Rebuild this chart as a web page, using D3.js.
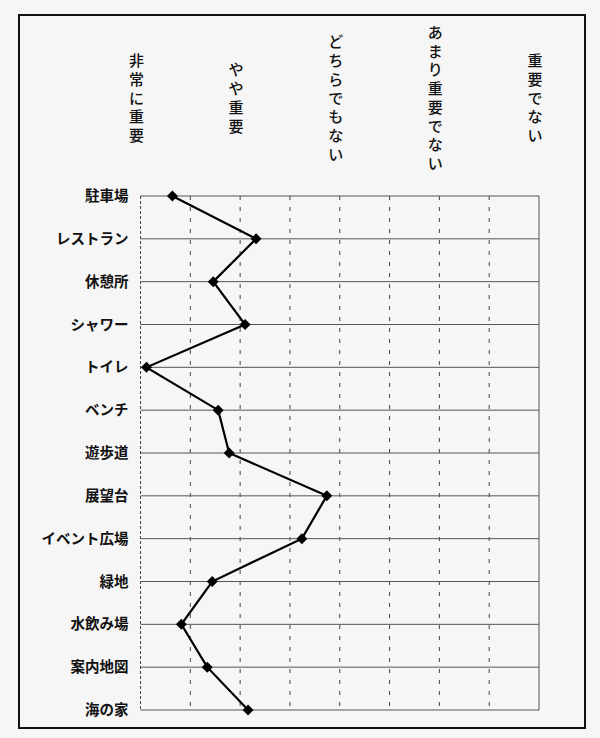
<!DOCTYPE html>
<html>
<head>
<meta charset="utf-8">
<script src="https://cdn.jsdelivr.net/npm/d3@7"></script>
<style>
  html, body { margin: 0; padding: 0; background: #f6f6f6; }
  text { font-family: "Noto Sans CJK JP", "Noto Sans", sans-serif; fill: #111; }
</style>
</head>
<body>
<div id="chart"></div>
<script>
// facilities (rows, top to bottom)
const facilities = ['駐車場', 'レストラン', '休憩所', 'シャワー', 'トイレ', 'ベンチ', '遊歩道',
  '展望台', 'イベント広場', '緑地', '水飲み場', '案内地図', '海の家'];
// mean rating, 1 = 非常に重要 ... 5 = 重要でない
const ratings = [1.32, 2.16, 1.73, 2.05, 1.06, 1.78, 1.89, 2.87, 2.62, 1.72, 1.41, 1.67, 2.08];
// scale labels across the top
const scaleLabels = ['非常に重要', 'やや重要', 'どちらでもない', 'あまり重要でない', '重要でない'];
const gridTicks = [1, 1.5, 2, 2.5, 3, 3.5, 4, 4.5, 5];

const width = 600, height = 738;
const plot = { left: 140.5, right: 539, top: 196, bottom: 710 };

const svg = d3.select('#chart')
  .append('svg')
  .attr('width', width)
  .attr('height', height);

// outer frame
svg.append('rect')
  .attr('x', 19).attr('y', 15)
  .attr('width', 566).attr('height', 713)
  .attr('fill', 'none')
  .attr('stroke', '#111')
  .attr('stroke-width', 2);

const x = d3.scaleLinear().domain([1, 5]).range([plot.left, plot.right]);
const y = d3.scalePoint().domain(facilities).range([plot.top, plot.bottom]);

// vertical grid (dashed)
svg.append('g')
  .selectAll('line')
  .data(gridTicks)
  .enter()
  .append('line')
  .attr('x1', d => x(d)).attr('x2', d => x(d))
  .attr('y1', plot.top).attr('y2', plot.bottom)
  .attr('stroke', d => (d === 5 ? '#555' : '#444'))
  .attr('stroke-width', 1)
  .attr('stroke-dasharray', d => (d === 5 ? null : d === 1 ? '3,2' : '4,7'));

// horizontal grid, one per row
svg.append('g')
  .selectAll('line')
  .data(facilities)
  .enter()
  .append('line')
  .attr('x1', plot.left).attr('x2', plot.right)
  .attr('y1', d => y(d)).attr('y2', d => y(d))
  .attr('stroke', '#555')
  .attr('stroke-width', 1);

// row labels via axis
const yAxis = svg.append('g')
  .attr('transform', `translate(${plot.left},0)`)
  .call(d3.axisLeft(y).tickSize(0).tickPadding(12));
yAxis.select('.domain').remove();
yAxis.selectAll('text')
  .style('font-family', '"Noto Sans CJK JP", sans-serif')
  .style('font-size', '14.5px')
  .style('font-weight', 'bold')
  .attr('fill', '#111');

// vertical scale labels across the top, one glyph per text
const pitch = 18.7;
const headerMid = 97;
scaleLabels.forEach((label, i) => {
  const chars = Array.from(label);
  const top = headerMid - chars.length * pitch / 2;
  svg.append('g')
    .selectAll('text')
    .data(chars)
    .enter()
    .append('text')
    .attr('x', x(i + 1) - 4)
    .attr('y', (c, j) => top + (j + 0.5) * pitch)
    .attr('text-anchor', 'middle')
    .attr('dominant-baseline', 'central')
    .style('font-size', '15px')
    .style('font-weight', 500)
    .text(c => c);
});

// the profile line
const line = d3.line()
  .x(d => x(d[1]))
  .y(d => y(d[0]));

const points = facilities.map((f, i) => [f, ratings[i]]);

svg.append('path')
  .datum(points)
  .attr('fill', 'none')
  .attr('stroke', '#000')
  .attr('stroke-width', 2.2)
  .attr('d', line);

// diamond markers
svg.selectAll('.point')
  .data(points)
  .enter()
  .append('path')
  .attr('class', 'point')
  .attr('d', d3.symbol().type(d3.symbolSquare).size(60))
  .attr('transform', d => `translate(${x(d[1])},${y(d[0])}) rotate(45)`)
  .attr('fill', '#000');
</script>
</body>
</html>
